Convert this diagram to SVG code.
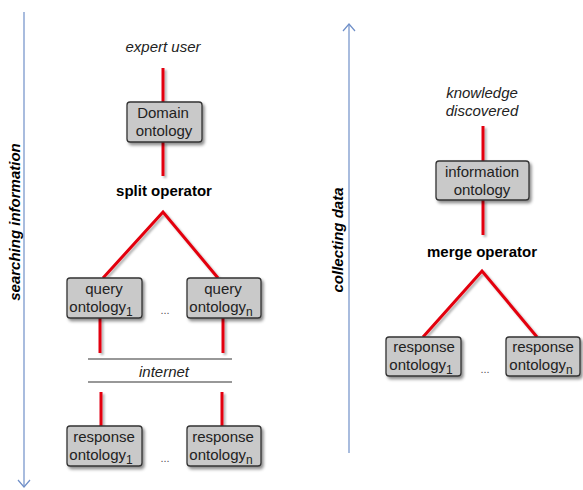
<svg xmlns="http://www.w3.org/2000/svg" width="583" height="490" viewBox="0 0 583 490">
<defs>
<filter id="sh" x="-20%" y="-20%" width="150%" height="150%">
<feDropShadow dx="2" dy="2.5" stdDeviation="1.6" flood-color="#000" flood-opacity="0.45"/>
</filter>
<filter id="lsh" x="-50%" y="-10%" width="200%" height="130%">
<feDropShadow dx="2" dy="2" stdDeviation="1.3" flood-color="#000" flood-opacity="0.3"/>
</filter>
<style>
.box{fill:#c9c9c9;stroke:#333;stroke-width:1.3;filter:url(#sh)}
.red{stroke:#e3000f;stroke-width:3;fill:none;stroke-linejoin:miter}
.t{font-family:"Liberation Sans",Arial,sans-serif;font-size:15px;fill:#222;text-anchor:middle}
.it{font-style:italic}
.b{font-weight:bold;fill:#000}
.axis{stroke:#6f8fc8;stroke-width:1.2;fill:none}
.sub{font-size:12px}
.dots{font-family:"Liberation Sans",Arial,sans-serif;font-size:11px;fill:#555;text-anchor:middle}
.net{stroke:#333;stroke-width:1.2}
</style>
</defs>

<g id="connectors" filter="url(#lsh)">
<line class="red" x1="163" y1="68" x2="163" y2="102"/>
<line class="red" x1="163" y1="142" x2="163" y2="176"/>
<polyline class="red" points="103,278 163,212 218,278"/>
<line class="red" x1="100" y1="318" x2="100" y2="353"/>
<line class="red" x1="223" y1="318" x2="223" y2="353"/>
<line class="red" x1="101" y1="392" x2="101" y2="426"/>
<line class="red" x1="222" y1="392" x2="222" y2="426"/>
<line class="red" x1="483" y1="126" x2="483" y2="161"/>
<line class="red" x1="483" y1="200" x2="483" y2="235"/>
<polyline class="red" points="423,337 482,271 537,337"/>
</g>

<g id="axis-search">
<line class="axis" x1="24" y1="12" x2="24" y2="487"/>
<path class="axis" d="M18,480 L24,487 L30,480"/>
<text class="t it b" transform="translate(20,222) rotate(-90)">searching information</text>
</g>
<g id="axis-collect">
<line class="axis" x1="349" y1="453" x2="349" y2="24"/>
<path class="axis" d="M343,31 L349,24 L355,31"/>
<text class="t it b" transform="translate(343,240) rotate(-90)">collecting data</text>
</g>

<g id="expert-user"><text class="t it" x="163" y="52">expert user</text></g>

<g id="domain-ontology">
<rect class="box" x="127" y="102" width="75" height="40" rx="3"/>
<text class="t" x="163" y="118">Domain</text>
<text class="t" x="164" y="136">ontology</text>
</g>

<g id="split-operator"><text class="t b" x="164" y="196">split operator</text></g>

<g id="query-1">
<rect class="box" x="67" y="278" width="75" height="40" rx="3"/>
<text class="t" x="104" y="294">query</text>
<text class="t" x="101" y="312">ontology<tspan class="sub" dy="4">1</tspan></text>
</g>
<g id="query-n">
<rect class="box" x="187" y="278" width="74" height="40" rx="3"/>
<text class="t" x="223" y="294">query</text>
<text class="t" x="221" y="312">ontology<tspan class="sub" dy="4">n</tspan></text>
</g>
<text class="dots" x="165" y="314">...</text>

<g id="internet">
<line class="net" x1="88" y1="359" x2="232" y2="359"/>
<line class="net" x1="88" y1="382" x2="232" y2="382"/>
<text class="t it" x="164" y="377">internet</text>
</g>

<g id="response-1">
<rect class="box" x="67" y="426" width="75" height="40" rx="3"/>
<text class="t" x="104" y="442">response</text>
<text class="t" x="101" y="460">ontology<tspan class="sub" dy="4">1</tspan></text>
</g>
<g id="response-n">
<rect class="box" x="187" y="426" width="74" height="40" rx="3"/>
<text class="t" x="223" y="442">response</text>
<text class="t" x="221" y="460">ontology<tspan class="sub" dy="4">n</tspan></text>
</g>
<text class="dots" x="165" y="462">...</text>

<g id="knowledge-discovered">
<text class="t it" x="482" y="98">knowledge</text>
<text class="t it" x="482" y="116">discovered</text>
</g>

<g id="information-ontology">
<rect class="box" x="436" y="161" width="93" height="39" rx="3"/>
<text class="t" x="482" y="177">information</text>
<text class="t" x="482" y="195">ontology</text>
</g>

<g id="merge-operator"><text class="t b" x="482" y="257">merge operator</text></g>

<g id="merge-response-1">
<rect class="box" x="386" y="337" width="75" height="39" rx="3"/>
<text class="t" x="424" y="352">response</text>
<text class="t" x="421" y="370">ontology<tspan class="sub" dy="4">1</tspan></text>
</g>
<g id="merge-response-n">
<rect class="box" x="506" y="337" width="74" height="39" rx="3"/>
<text class="t" x="543" y="352">response</text>
<text class="t" x="541" y="370">ontology<tspan class="sub" dy="4">n</tspan></text>
</g>
<text class="dots" x="485" y="373">...</text>
</svg>
